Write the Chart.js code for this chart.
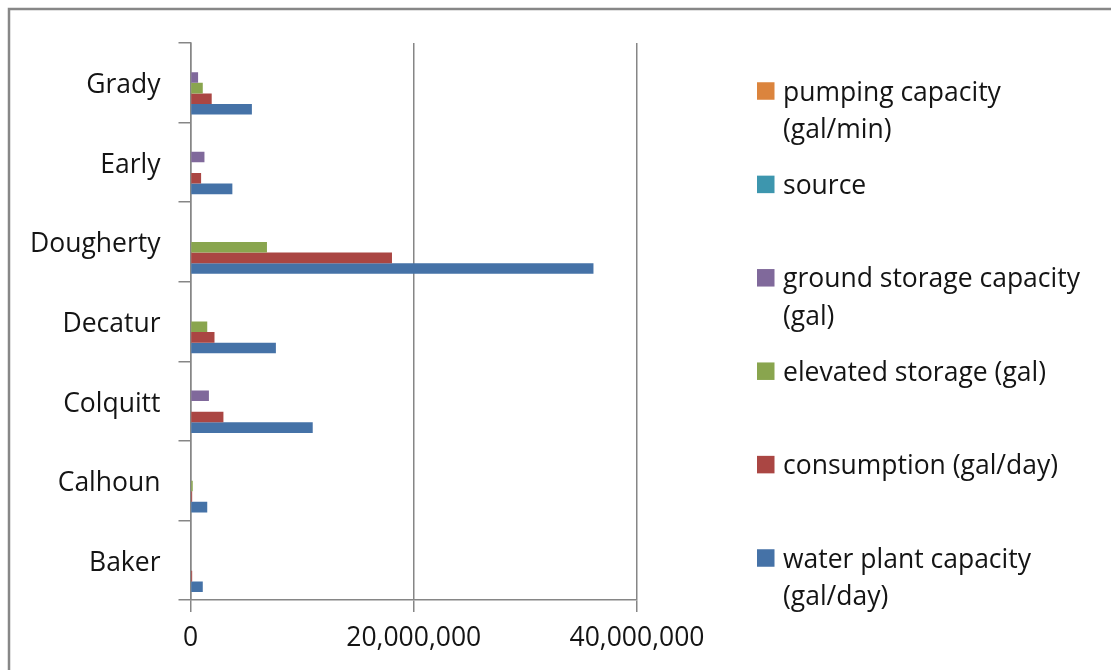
<!DOCTYPE html>
<html>
<head>
<meta charset="utf-8">
<title>Water systems by county</title>
<script src="https://cdn.jsdelivr.net/npm/chart.js@4/dist/chart.umd.min.js"></script>
<style>
  html, body { margin: 0; padding: 0; background: #ffffff; }
  #wrap { width: 1111px; height: 670px; position: relative; }
</style>
</head>
<body>
<div id="wrap"><canvas id="chart" width="1111" height="670"></canvas></div>
<script>
// Counties, listed top to bottom as drawn
const counties = ['Grady', 'Early', 'Dougherty', 'Decatur', 'Colquitt', 'Calhoun', 'Baker'];

// Series values per county (same order as counties)
const pumpingCapacity   = [null, null, null, null, null, null, null];
const source            = [null, null, null, null, null, null, null];
const groundStorage     = [680000, 1250000, null, null, 1650000, null, null];
const elevatedStorage   = [1100000, null, 6850000, 1500000, null, 200000, null];
const consumption       = [1900000, 950000, 18050000, 2150000, 2950000, 150000, 150000];
const waterPlant        = [5500000, 3750000, 36100000, 7650000, 10950000, 1500000, 1100000];

const seriesNames = [
  'pumping capacity (gal/min)',
  'source',
  'ground storage capacity (gal)',
  'elevated storage (gal)',
  'consumption (gal/day)',
  'water plant capacity (gal/day)'
];

const xTickValues = [0, 20000000, 40000000];

const FONT = '"Open Sans", "DejaVu Sans", sans-serif';
const FONT_SIZE = 26.5;
const TEXT = '#141414';
const AXIS = '#868686';

const fills = ['#DB843D', '#3D96AE', '#80699B', '#89A54E', '#AA4643', '#4572A7'];
const seriesData = [pumpingCapacity, source, groundStorage, elevatedStorage, consumption, waterPlant];

const datasets = seriesNames.map((name, i) => ({
  label: name,
  data: seriesData[i],
  backgroundColor: fills[i],
  borderWidth: 0,
  categoryPercentage: 0.8,
  barPercentage: 1.0
}));

// Outer frame of the chart object (top and left edges)
const framePlugin = {
  id: 'frame',
  beforeDraw(chart) {
    const ctx = chart.ctx;
    ctx.save();
    ctx.fillStyle = '#ffffff';
    ctx.fillRect(0, 0, chart.width, chart.height);
    ctx.strokeStyle = '#878787';
    ctx.lineWidth = 2.5;
    ctx.beginPath();
    ctx.moveTo(9, chart.height + 5);
    ctx.lineTo(9, 9);
    ctx.lineTo(chart.width + 5, 9);
    ctx.stroke();
    ctx.restore();
  }
};

// Legend on the right with wrapped labels
const sideLegend = {
  id: 'sideLegend',
  afterDraw(chart) {
    const ctx = chart.ctx;
    const x0 = 757, textX = 783, y0 = 92, step = 93.4, lineGap = 37.5, box = 17.5, maxW = 310;
    ctx.save();
    ctx.font = FONT_SIZE + 'px ' + FONT;
    ctx.textBaseline = 'middle';
    ctx.textAlign = 'left';
    chart.data.datasets.forEach((ds, i) => {
      const y = y0 + i * step;
      ctx.fillStyle = ds.backgroundColor;
      ctx.fillRect(x0, y - box / 2 - 1, box, box);
      // word wrap
      const words = ds.label.split(' ');
      const lines = [];
      let cur = '';
      words.forEach(w => {
        const test = cur ? cur + ' ' + w : w;
        if (ctx.measureText(test).width > maxW && cur) { lines.push(cur); cur = w; }
        else cur = test;
      });
      if (cur) lines.push(cur);
      ctx.fillStyle = TEXT;
      lines.forEach((ln, j) => ctx.fillText(ln, textX, y + 1 + j * lineGap));
    });
    ctx.restore();
  }
};

new Chart(document.getElementById('chart'), {
  type: 'bar',
  data: { labels: counties, datasets },
  options: {
    indexAxis: 'y',
    responsive: false,
    animation: false,
    devicePixelRatio: 1,
    layout: { padding: { left: 0, top: 43, right: 474, bottom: 0 } },
    plugins: {
      legend: { display: false },
      tooltip: { enabled: false }
    },
    scales: {
      x: {
        type: 'linear',
        min: 0,
        max: 40000000,
        afterBuildTicks(scale) { scale.ticks = xTickValues.map(v => ({ value: v })); },
        afterFit(scale) { scale.height = 70; },
        ticks: {
          color: TEXT,
          font: { family: FONT, size: FONT_SIZE },
          padding: 11,
          maxRotation: 0,
          callback: v => Number(v).toLocaleString('en-US')
        },
        grid: { color: AXIS, lineWidth: 1.5, tickLength: 12, drawTicks: true },
        border: { display: true, color: AXIS, width: 1.5 }
      },
      y: {
        type: 'category',
        afterFit(scale) { scale.width = 190.5; },
        ticks: {
          color: TEXT,
          font: { family: FONT, size: FONT_SIZE },
          padding: 18,
          labelOffset: 3
        },
        grid: { offset: true, drawOnChartArea: false, color: AXIS, lineWidth: 1.5, tickLength: 12 },
        border: { display: true, color: AXIS, width: 1.5 }
      }
    }
  },
  plugins: [framePlugin, sideLegend]
});
</script>
</body>
</html>
